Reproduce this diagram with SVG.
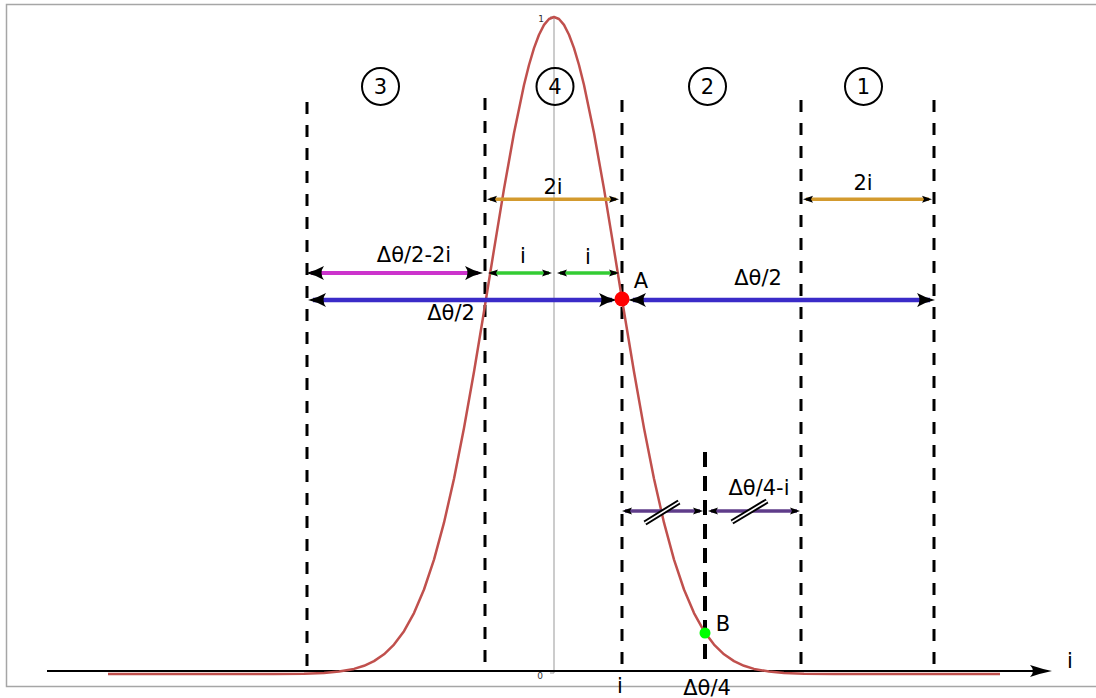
<svg xmlns="http://www.w3.org/2000/svg" width="1096" height="698" viewBox="0 0 1096 698">
<style>
.dash{stroke:#000;stroke-width:3;stroke-dasharray:12 11;fill:none}
.lbl{font-family:"DejaVu Sans",sans-serif;font-size:21px;fill:#000;text-anchor:middle}
.num{font-family:"DejaVu Sans",sans-serif;font-size:21px;fill:#000;text-anchor:middle}
.circ{fill:none;stroke:#000;stroke-width:2}
.big{marker-start:url(#bigHead);marker-end:url(#bigHead);fill:none}
.small{marker-start:url(#smallHead);marker-end:url(#smallHead);fill:none}
.tick{font-family:"DejaVu Sans",sans-serif;font-size:9px;fill:#333;text-anchor:middle}
</style>
<defs>
<marker id="bigHead" markerUnits="userSpaceOnUse" markerWidth="30" markerHeight="20" refX="0" refY="0" orient="auto-start-reverse" overflow="visible">
<path d="M5,0 Q-4,-2 -13,-7 Q-8,0 -13,7 Q-4,2 5,0 Z" fill="#000"/>
</marker>
<marker id="smallHead" markerUnits="userSpaceOnUse" markerWidth="20" markerHeight="10" refX="0" refY="0" orient="auto-start-reverse" overflow="visible">
<path d="M3,0 L-7,-3.5 L-5,0 L-7,3.5 Z" fill="#000"/>
</marker>
<marker id="axisHead" markerUnits="userSpaceOnUse" markerWidth="30" markerHeight="20" refX="0" refY="0" orient="auto" overflow="visible">
<path d="M4,0 Q-6,-2 -18,-6 Q-12,0 -18,6 Q-6,2 4,0 Z" fill="#000"/>
</marker>
</defs>
<rect width="1096" height="698" fill="#fff"/>
<rect id="frame" x="6.5" y="4.5" width="1100" height="682" fill="none" stroke="#a6a6a6" stroke-width="1.5"/>

<g id="yaxis">
<line x1="554" y1="17" x2="554" y2="673" stroke="#aaa" stroke-width="1.2"/>
<line x1="550" y1="673" x2="554" y2="673" stroke="#aaa" stroke-width="1.2"/>
<line x1="550" y1="17" x2="554" y2="17" stroke="#aaa" stroke-width="1.2"/>
<text class="tick" x="541" y="22">1</text>
<text class="tick" x="540" y="679">0</text>
</g>

<g id="xaxis">
<line x1="47" y1="671" x2="1048" y2="671" stroke="#000" stroke-width="2" marker-end="url(#axisHead)"/>
<text class="lbl" x="1070" y="668">i</text>
</g>

<g id="dashed-lines">
<line class="dash" x1="307" y1="102" x2="307" y2="670"/>
<line class="dash" x1="485" y1="98" x2="485" y2="666"/>
<line class="dash" x1="622" y1="100" x2="622" y2="670"/>
<line class="dash" x1="801" y1="100" x2="801" y2="670"/>
<line class="dash" x1="934" y1="100" x2="934" y2="670"/>
<line x1="705" y1="452" x2="705" y2="662" stroke="#000" stroke-width="4" stroke-dasharray="15 9"/>
</g>

<g id="gaussian">
<path d="M108,674 L274,674 L304,673.7 L324,672.9 L339,671.6 L354,668.9 L364,665.8 L374,661.1 L384,654.3 L394,644.6 L404,631.2 L414,613.1 L424,589.5 L434,559.6 L444,522.7 L454,478.8 L464,428.1 L474,371.8 L484,311.5 L494,249.6 L504,188.9 L514,133 L524,85 L529,65 L534,48.1 L539,34.7 L544,24.9 L549,19 L554,17 L559,19 L564,24.9 L569,34.7 L574,48.1 L579,65 L584,85 L594,133 L604,188.9 L614,249.6 L624,311.5 L634,371.8 L644,428.1 L654,478.8 L664,522.7 L674,559.6 L684,589.5 L694,613.1 L704,631.2 L714,644.6 L724,654.3 L734,661.1 L744,665.8 L754,668.9 L769,671.6 L784,672.9 L804,673.7 L834,674 L1000,674" fill="none" stroke="#c0504d" stroke-width="2.5" stroke-linejoin="round"/>
</g>

<g id="connectors">
<line class="small" x1="490" y1="199.3" x2="616" y2="199.3" stroke="#d39a2e" stroke-width="3.5"/>
<line class="small" x1="806" y1="199.3" x2="929" y2="199.3" stroke="#d39a2e" stroke-width="3.5"/>
<line class="small" x1="491" y1="273" x2="549" y2="273" stroke="#33cc33" stroke-width="3.5"/>
<line class="small" x1="560" y1="273" x2="616" y2="273" stroke="#33cc33" stroke-width="3.5"/>
<line class="big" x1="311" y1="273" x2="478" y2="273" stroke="#cc33cc" stroke-width="4"/>
<line class="big" x1="313" y1="300" x2="612" y2="300" stroke="#3a2bc8" stroke-width="4.5"/>
<line class="big" x1="633" y1="300" x2="930" y2="300" stroke="#3a2bc8" stroke-width="4.5"/>
<line class="small" x1="625" y1="511" x2="700" y2="511" stroke="#5f3c8a" stroke-width="3.5"/>
<line class="small" x1="711" y1="511" x2="797" y2="511" stroke="#5f3c8a" stroke-width="3.5"/>
<g id="hash1">
<line x1="645" y1="523" x2="679" y2="502" stroke="#000" stroke-width="5.5"/>
<line x1="645" y1="523" x2="679" y2="502" stroke="#fff" stroke-width="1.6"/>
</g>
<g id="hash2">
<line x1="732" y1="522" x2="767" y2="501" stroke="#000" stroke-width="5.5"/>
<line x1="732" y1="522" x2="767" y2="501" stroke="#fff" stroke-width="1.6"/>
</g>
</g>

<g id="pointA">
<circle cx="622" cy="299" r="7.5" fill="#ff0000"/>
<text class="lbl" x="641" y="288">A</text>
</g>
<g id="pointB">
<circle cx="705" cy="633" r="5.5" fill="#00ff00"/>
<text class="lbl" x="723" y="631">B</text>
</g>

<g id="region3"><circle class="circ" cx="380.5" cy="86.5" r="18.5"/><text class="num" x="380.5" y="94">3</text></g>
<g id="region4"><circle class="circ" cx="555" cy="86.5" r="18.5"/><text class="num" x="555" y="94">4</text></g>
<g id="region2"><circle class="circ" cx="707.5" cy="86.5" r="18.5"/><text class="num" x="707.5" y="94">2</text></g>
<g id="region1"><circle class="circ" cx="863.5" cy="86.5" r="18.5"/><text class="num" x="863.5" y="94">1</text></g>

<g id="labels">
<text class="lbl" x="553" y="194">2i</text>
<text class="lbl" x="863" y="190">2i</text>
<text class="lbl" x="414" y="262">Δθ/2-2i</text>
<text class="lbl" x="523" y="263">i</text>
<text class="lbl" x="588" y="264">i</text>
<text class="lbl" x="451" y="320">Δθ/2</text>
<text class="lbl" x="758" y="285">Δθ/2</text>
<text class="lbl" x="759" y="495">Δθ/4-i</text>
<text class="lbl" x="620" y="693">i</text>
<text class="lbl" x="707" y="695">Δθ/4</text>
</g>
</svg>
